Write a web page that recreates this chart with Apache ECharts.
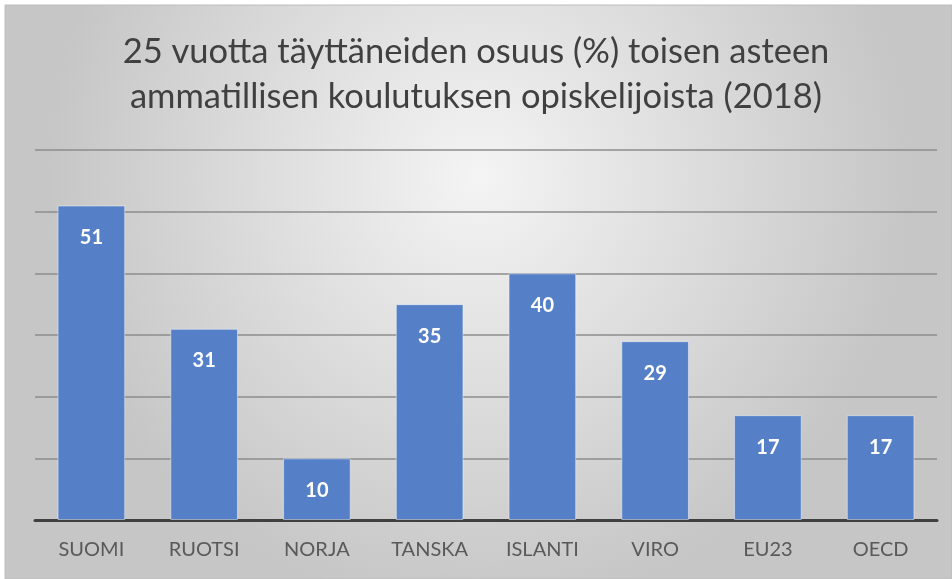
<!DOCTYPE html>
<html><head><meta charset="utf-8">
<script src="https://cdn.jsdelivr.net/npm/echarts@6/dist/echarts.min.js"></script>
<style>html,body{margin:0;padding:0;background:#fff}#c{width:952px;height:579px}</style>
</head><body><div id="c"></div>
<script>
const categories = ['SUOMI','RUOTSI','NORJA','TANSKA','ISLANTI','VIRO','EU23','OECD'];
const values = [51, 31, 10, 35, 40, 29, 17, 17];
const titleText = '25 vuotta täyttäneiden osuus (%) toisen asteen\nammatillisen koulutuksen opiskelijoista (2018)';

const chart = echarts.init(document.getElementById('c'));
chart.setOption({
  animation: false,
  graphic: [{
    type: 'rect', z: -10, silent: true,
    shape: {x: 5, y: 5, width: 947, height: 574},
    style: {
      fill: new echarts.graphic.RadialGradient(0.5, 0.3, 0.75, [
        {offset: 0, color: '#f4f4f4'},
        {offset: 1, color: '#c6c6c6'}
      ]),
      stroke: '#bdbdbd', lineWidth: 1
    }
  }],
  title: {
    text: titleText,
    left: 'center', top: 24,
    textStyle: {fontFamily: 'Lato', fontSize: 34.5, fontWeight: 'normal', color: '#404040', lineHeight: 45}
  },
  grid: {left: 35, right: 15, top: 150, bottom: 59},
  xAxis: {
    type: 'category', data: categories,
    axisLine: {lineStyle: {color: '#404040', width: 3}},
    axisTick: {show: false},
    axisLabel: {fontFamily: 'Lato', fontSize: 20, color: '#595959', margin: 20}
  },
  yAxis: {
    type: 'value', min: 0, max: 60, interval: 10,
    axisLabel: {show: false},
    axisLine: {show: false}, axisTick: {show: false},
    splitLine: {lineStyle: {color: '#8c8c8c', width: 1.5}}
  },
  series: [{
    type: 'bar', data: values, barWidth: '60%',
    itemStyle: {color: '#5580c8', borderColor: 'rgba(255,255,255,0.45)', borderWidth: 1},
    label: {show: true, position: 'insideTop', distance: 22, color: '#fff', fontFamily: 'Lato', fontWeight: 'bold', fontSize: 20}
  }]
});
</script></body></html>
